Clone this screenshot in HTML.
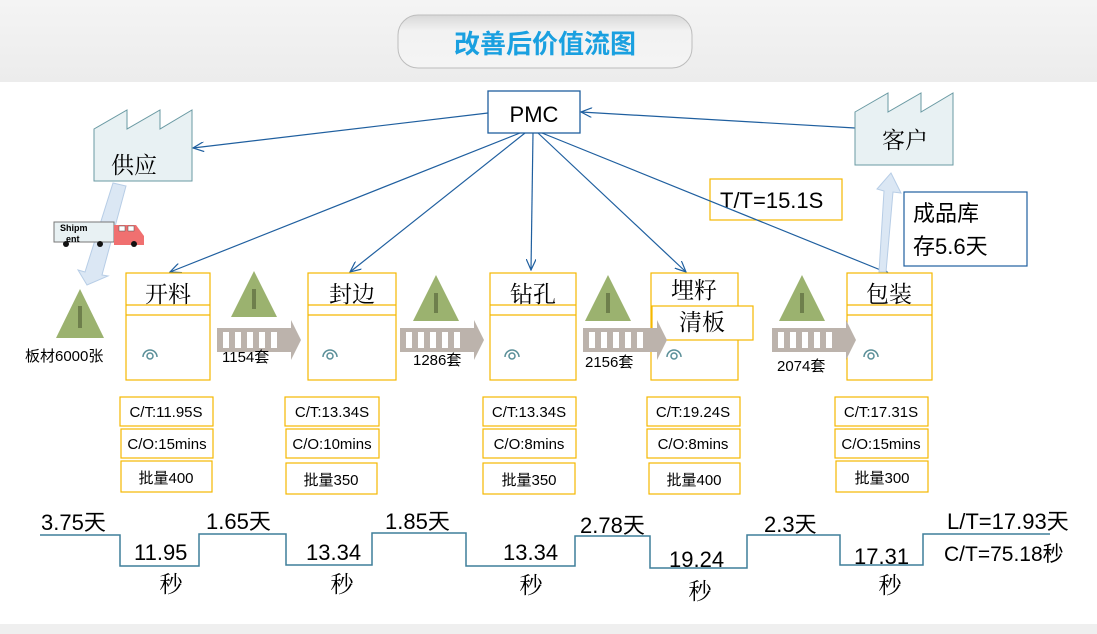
<!DOCTYPE html>
<html><head><meta charset="utf-8"><style>
body{margin:0;background:#fff;}
svg{display:block;}
text{font-family:"Liberation Sans","Noto Sans CJK SC",sans-serif;fill:#000;}
.s{font-family:"Noto Serif CJK SC","Liberation Serif",serif;}
</style></head><body>
<svg width="1097" height="634" viewBox="0 0 1097 634" xmlns="http://www.w3.org/2000/svg">
<defs>
<linearGradient id="hd" x1="0" y1="0" x2="0" y2="1"><stop offset="0" stop-color="#f4f4f4"/><stop offset="1" stop-color="#ececec"/></linearGradient>
<linearGradient id="pill" x1="0" y1="0" x2="0" y2="1"><stop offset="0" stop-color="#d8d8d8"/><stop offset="0.3" stop-color="#f2f2f2"/><stop offset="1" stop-color="#f4f4f4"/></linearGradient>
<marker id="ar" markerWidth="12" markerHeight="10" refX="11" refY="5" orient="auto" markerUnits="userSpaceOnUse"><path d="M0,0 L11,5 L0,10" fill="none" stroke="#1f5f9f" stroke-width="1.2"/></marker>
</defs>
<rect x="0" y="0" width="1097" height="82" fill="url(#hd)"/>
<rect x="0" y="624" width="1097" height="10" fill="#efefef"/>
<rect x="398" y="15" width="294" height="53" rx="20" fill="url(#pill)" stroke="#bdbdbd"/>
<text x="545" y="53" font-size="26" font-weight="bold" text-anchor="middle" style="fill:#1aa0e0">改善后价值流图</text>

<rect x="710" y="179" width="132" height="41" fill="#fff" stroke="#f5b800" stroke-width="1.2"/>
<text x="720" y="208" font-size="22">T/T=15.1S</text>

<!-- connectors -->
<g stroke="#1f5f9f" stroke-width="1.2" fill="none">
<line x1="488" y1="113" x2="193" y2="148" marker-end="url(#ar)"/>
<line x1="855" y1="128" x2="581" y2="112" marker-end="url(#ar)"/>
<line x1="520" y1="133" x2="170" y2="272" marker-end="url(#ar)"/>
<line x1="525" y1="133" x2="350" y2="272" marker-end="url(#ar)"/>
<line x1="533" y1="133" x2="531" y2="270" marker-end="url(#ar)"/>
<line x1="538" y1="133" x2="686" y2="272" marker-end="url(#ar)"/>
<line x1="542" y1="133" x2="888" y2="273" marker-end="url(#ar)"/>
</g>
<rect x="488" y="91" width="92" height="42" fill="#fff" stroke="#1f5f9f" stroke-width="1.3"/>
<text x="534" y="122" font-size="22" text-anchor="middle">PMC</text>

<!-- factories -->
<polygon points="94,129 127,110 127,129 160,110 160,129 192,110 192,181 94,181" fill="#e8f1f3" stroke="#6a9aa3" stroke-width="1"/>
<text x="134" y="173" font-size="23" text-anchor="middle" class="s">供应</text>
<polygon points="855,112 888,93 888,112 921,93 921,112 953,93 953,165 855,165" fill="#e8f1f3" stroke="#6a9aa3" stroke-width="1"/>
<text x="905" y="148" font-size="23" text-anchor="middle" class="s">客户</text>

<!-- supplier arrow -->
<polygon points="113,183 126,186 102,275 108,276 87,285 78,270 85,272" fill="#dbe7f4" stroke="#b7cde6"/>
<!-- truck -->
<rect x="54" y="222" width="60" height="20" fill="#e8f1f3" stroke="#777"/>
<text x="60" y="231" font-size="9" font-weight="bold" font-family="Liberation Mono">Shipm</text>
<text x="66" y="242" font-size="9" font-weight="bold" font-family="Liberation Mono">ent</text>
<path d="M114,225 H136 L144,236 V245 H114 Z" fill="#f07070"/>
<rect x="119" y="226" width="6" height="5" fill="#fff" stroke="#555" stroke-width=".5"/><rect x="128" y="226" width="6" height="5" fill="#fff" stroke="#555" stroke-width=".5"/>
<g fill="#111"><circle cx="66" cy="244" r="3"/><circle cx="100" cy="244" r="3"/><circle cx="134" cy="244" r="3"/></g>

<!-- customer arrow -->
<polygon points="879,272 886,272 893,192 901,193 891,173 877,189 884,191" fill="#dbe7f4" stroke="#b7cde6"/>

<rect x="904" y="192" width="123" height="74" fill="#fff" stroke="#1f5f9f" stroke-width="1.2"/>
<text x="913" y="221" font-size="22">成品库</text>
<text x="913" y="254" font-size="22">存5.6天</text>

<!-- process boxes -->
<g fill="#fff" stroke="#f5b800" stroke-width="1.2">
<rect x="126" y="273" width="84" height="107"/><line x1="126" y1="305" x2="210" y2="305"/><line x1="126" y1="315" x2="210" y2="315"/>
<rect x="308" y="273" width="88" height="107"/><line x1="308" y1="305" x2="396" y2="305"/><line x1="308" y1="315" x2="396" y2="315"/>
<rect x="490" y="273" width="86" height="107"/><line x1="490" y1="305" x2="576" y2="305"/><line x1="490" y1="315" x2="576" y2="315"/>
<rect x="651" y="273" width="87" height="107"/>
<rect x="652" y="306" width="101" height="34"/>
<rect x="847" y="273" width="85" height="107"/><line x1="847" y1="305" x2="932" y2="305"/><line x1="847" y1="315" x2="932" y2="315"/>
</g>
<g font-size="23" class="s" text-anchor="middle">
<text x="168" y="302" class="s">开料</text>
<text x="352" y="302" class="s">封边</text>
<text x="533" y="302" class="s">钻孔</text>
<text x="694" y="298" class="s">埋籽</text>
<text x="702" y="330" class="s">清板</text>
<text x="889" y="302" class="s">包装</text>
</g>
<!-- operator icons -->
<g fill="none" stroke="#5a8f98" stroke-width="1.5">
<path d="M143,357 a7,7 0 0 1 14,0"/><circle cx="150" cy="356" r="3"/>
<path d="M323,357 a7,7 0 0 1 14,0"/><circle cx="330" cy="356" r="3"/>
<path d="M505,357 a7,7 0 0 1 14,0"/><circle cx="512" cy="356" r="3"/>
<path d="M667,357 a7,7 0 0 1 14,0"/><circle cx="674" cy="356" r="3"/>
<path d="M864,357 a7,7 0 0 1 14,0"/><circle cx="871" cy="356" r="3"/>
</g>

<!-- triangles -->
<g>
<polygon points="80,289 56,338 104,338" fill="#9bb26f"/><rect x="78" y="306" width="4" height="22" fill="#6e7f4c"/>
<polygon points="254,271 231,317 277,317" fill="#9bb26f"/><rect x="252" y="289" width="4" height="20" fill="#6e7f4c"/>
<polygon points="436,275 413,321 459,321" fill="#9bb26f"/><rect x="434" y="293" width="4" height="20" fill="#6e7f4c"/>
<polygon points="608,275 585,321 631,321" fill="#9bb26f"/><rect x="606" y="293" width="4" height="20" fill="#6e7f4c"/>
<polygon points="802,275 779,321 825,321" fill="#9bb26f"/><rect x="800" y="293" width="4" height="20" fill="#6e7f4c"/>
</g>
<!-- push arrows -->
<g id="pa">
<polygon points="217,328 291,328 291,320 301,340 291,360 291,352 217,352" fill="#bcb3ac"/>
<g fill="#fff"><rect x="223" y="332" width="6" height="16"/><rect x="235" y="332" width="6" height="16"/><rect x="247" y="332" width="6" height="16"/><rect x="259" y="332" width="6" height="16"/><rect x="271" y="332" width="6" height="16"/></g>
</g>
<use href="#pa" x="183"/>
<use href="#pa" x="366"/>
<use href="#pa" x="555"/>
<g font-size="15">
<text x="25" y="361">板材6000张</text>
<text x="222" y="362">1154套</text>
<text x="413" y="365">1286套</text>
<text x="585" y="367">2156套</text>
<text x="777" y="371">2074套</text>
</g>

<!-- data boxes -->
<g fill="#fff" stroke="#f5b800" stroke-width="1.2">
<rect x="120" y="397" width="93" height="29"/><rect x="121" y="429" width="92" height="29"/><rect x="121" y="461" width="91" height="31"/>
<rect x="285" y="397" width="94" height="29"/><rect x="286" y="429" width="93" height="29"/><rect x="286" y="463" width="91" height="31"/>
<rect x="483" y="397" width="93" height="29"/><rect x="483" y="429" width="93" height="29"/><rect x="483" y="463" width="92" height="31"/>
<rect x="647" y="397" width="93" height="29"/><rect x="647" y="429" width="93" height="29"/><rect x="649" y="463" width="91" height="31"/>
<rect x="835" y="397" width="93" height="29"/><rect x="835" y="429" width="93" height="29"/><rect x="836" y="461" width="92" height="31"/>
</g>
<g font-size="15" text-anchor="middle">
<text x="166" y="417">C/T:11.95S</text><text x="167" y="449">C/O:15mins</text><text x="166" y="483">批量400</text>
<text x="332" y="417">C/T:13.34S</text><text x="332" y="449">C/O:10mins</text><text x="331" y="485">批量350</text>
<text x="529" y="417">C/T:13.34S</text><text x="529" y="449">C/O:8mins</text><text x="529" y="485">批量350</text>
<text x="693" y="417">C/T:19.24S</text><text x="693" y="449">C/O:8mins</text><text x="694" y="485">批量400</text>
<text x="881" y="417">C/T:17.31S</text><text x="881" y="449">C/O:15mins</text><text x="882" y="483">批量300</text>
</g>

<!-- timeline -->
<polyline points="40,535 120,535 120,566 199,566 199,534 286,534 286,565 372,565 372,533 466,533 466,566 575,566 575,536 650,536 650,568 747,568 747,535 840,535 840,565 923,565 923,534 1050,534" fill="none" stroke="#3f7f9a" stroke-width="1.5"/>
<g font-size="22">
<text x="41" y="530">3.75天</text>
<text x="206" y="529">1.65天</text>
<text x="385" y="529">1.85天</text>
<text x="580" y="533">2.78天</text>
<text x="764" y="532">2.3天</text>
<text x="947" y="529">L/T=17.93天</text>
<text x="944" y="561" font-size="21">C/T=75.18秒</text>
<text x="134" y="560">11.95</text>
<text x="306" y="560">13.34</text>
<text x="503" y="560">13.34</text>
<text x="669" y="567">19.24</text>
<text x="854" y="564">17.31</text>
</g>
<g font-size="23" class="s" text-anchor="middle">
<text x="171" y="592" class="s">秒</text>
<text x="342" y="592" class="s">秒</text>
<text x="531" y="593" class="s">秒</text>
<text x="700" y="599" class="s">秒</text>
<text x="890" y="593" class="s">秒</text>
</g>
</svg>
</body></html>
